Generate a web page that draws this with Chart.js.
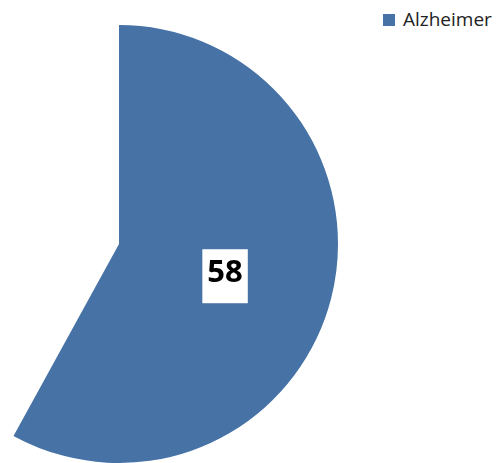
<!DOCTYPE html>
<html>
<head>
<meta charset="utf-8">
<script src="https://cdn.jsdelivr.net/npm/chart.js@4/dist/chart.umd.min.js"></script>
<style>
  html, body { margin: 0; padding: 0; background: #fff; overflow: hidden; }
  body { width: 496px; height: 463px; position: relative; }
  #wrap { position: absolute; left: -100px; top: 25px; width: 438px; height: 438px; }
  #legend { position: absolute; left: 383px; top: 6px; font-family: "Open Sans", sans-serif; font-size: 19px; line-height: 26px; color: #222; white-space: nowrap; }
  #legend span.box { display: inline-block; width: 12px; height: 12px; margin-right: 8px; vertical-align: 0px; }
</style>
</head>
<body>
<div id="wrap"><canvas id="pieChart" width="438" height="438"></canvas></div>
<div id="legend"></div>
<script>
// Chart data
const categories = ['Alzheimer'];
const values = [58];
const total = 100;  // remainder of the circle is left blank
const sliceColor = '#4672a6';

// Custom legend (only the real category)
document.getElementById('legend').innerHTML =
    '<span class="box" style="background:' + sliceColor + '"></span>' + categories[0];

// Draws the value in a white box at the slice centre
const valueLabels = {
    id: 'valueLabels',
    afterDatasetsDraw(chart) {
        const ctx = chart.ctx;
        const meta = chart.getDatasetMeta(0);
        ctx.save();
        ctx.font = 'bold 31px "Open Sans", sans-serif';
        ctx.textAlign = 'center';
        ctx.textBaseline = 'middle';
        values.forEach((v, i) => {
            const pos = meta.data[i].tooltipPosition();
            const text = String(v);
            const w = ctx.measureText(text).width + 10;
            const h = 54;
            ctx.fillStyle = '#ffffff';
            ctx.fillRect(pos.x - w / 2, pos.y - h / 2 + 5, w, h);
            ctx.fillStyle = '#000000';
            ctx.fillText(text, pos.x, pos.y + 2);
        });
        ctx.restore();
    }
};

const ctx = document.getElementById('pieChart').getContext('2d');
new Chart(ctx, {
    type: 'pie',
    data: {
        labels: [...categories, ''],
        datasets: [{
            data: [...values, total - values[0]],
            backgroundColor: [sliceColor, 'rgba(0,0,0,0)'],
            borderWidth: 0
        }]
    },
    options: {
        responsive: false,
        animation: false,
        layout: { padding: 0 },
        plugins: {
            legend: { display: false },
            tooltip: { enabled: false }
        }
    },
    plugins: [valueLabels]
});
</script>
</body>
</html>
